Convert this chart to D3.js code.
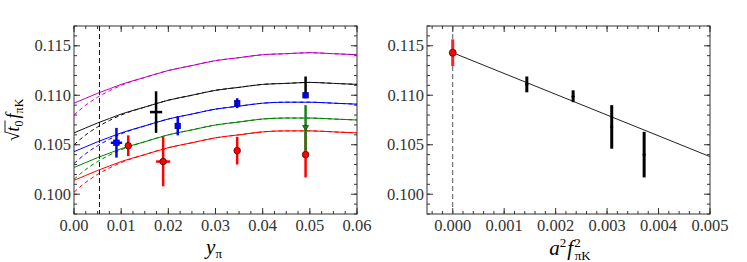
<!DOCTYPE html>
<html>
<head>
<meta charset="utf-8">
<script src="https://cdn.jsdelivr.net/npm/d3@7"></script>
<style>
body{margin:0;background:#fff}
</style>
</head>
<body>
<svg width="747" height="262" font-family="'Liberation Serif', 'DejaVu Serif', serif"></svg>
<script>
var curveX = [0,0.0025,0.005,0.0075,0.01,0.015,0.02,0.025,0.03,0.035,0.04,0.045,0.05,0.055,0.06];

var magSolid = [0.1092,0.1097,0.1102,0.11065,0.1111,0.1118,0.1125,0.1130,0.1135,0.1138,0.1141,0.1142,0.1143,0.1142,0.1141];
var blkSolid = [0.1062,0.1067,0.1072,0.10765,0.1081,0.1088,0.1095,0.1100,0.1105,0.1108,0.1111,0.1112,0.1113,0.1112,0.1111];
var bluSolid = [0.1043,0.1048,0.1053,0.10575,0.1062,0.1069,0.1076,0.1081,0.1086,0.1089,0.1092,0.1093,0.1093,0.1092,0.1091];
var grnSolid = [0.1027,0.1032,0.1037,0.10415,0.1046,0.1053,0.1060,0.1065,0.1070,0.1073,0.1076,0.1077,0.1077,0.1076,0.1075];
var redSolid = [0.1014,0.1019,0.1024,0.10285,0.1033,0.1040,0.1047,0.1052,0.1057,0.1060,0.1063,0.1064,0.1064,0.1063,0.1062];

var magDash = [0.1080,0.1090,0.1098,0.11045,0.1110,0.1118,0.1125,0.1130,0.1135,0.1138,0.1141,0.1142,0.1143,0.1142,0.1141];
var blkDash = [0.1050,0.1060,0.1068,0.10745,0.1080,0.1088,0.1095,0.1100,0.1105,0.1108,0.1111,0.1112,0.1113,0.1112,0.1111];
var bluDash = [0.1031,0.1041,0.1049,0.10555,0.1061,0.1069,0.1076,0.1081,0.1086,0.1089,0.1092,0.1093,0.1093,0.1092,0.1091];
var grnDash = [0.1015,0.1025,0.1033,0.10395,0.1045,0.1053,0.1060,0.1065,0.1070,0.1073,0.1076,0.1077,0.1077,0.1076,0.1075];
var redDash = [0.1002,0.1012,0.1020,0.10265,0.1032,0.1040,0.1047,0.1052,0.1057,0.1060,0.1063,0.1064,0.1064,0.1063,0.1062];

// data points: [x, y, xerr, yerr]
var redPts = [[0.0115,0.1049,0,0.00105],[0.0189,0.1033,0.0015,0.0025],[0.0346,0.1044,0,0.0014],[0.0491,0.1040,0,0.0023]];
var grnPts = [[0.0491,0.1067,0,0.0023]];
var blkPts = [[0.0174,0.1083,0.0013,0.0021],[0.0491,0.1109,0,0.0010]];
var bluPts = [[0.0090,0.1052,0.0012,0.0015],[0.0220,0.1069,0,0.00095],[0.0346,0.1092,0,0.0005],[0.0491,0.1100,0,0.0003]];

var physY = 0.0054;

// right panel
var contPt = [[0,0.1143,0,0.00135]];
var latPts = [[0.00144,0.1111,0,0.0008],[0.00234,0.1099,0,0.0006],[0.00309,0.1068,0,0.0022],[0.00372,0.1040,0,0.0023]];
var fitX = [0,0.005];
var fitY = [0.1143,0.1038];

var xTicksL = [0,0.01,0.02,0.03,0.04,0.05,0.06];
var xTicksR = [0,0.001,0.002,0.003,0.004,0.005];
var yTicks = [0.100,0.105,0.110,0.115];

var svg = d3.select("svg");
var y = d3.scaleLinear().domain([0.098,0.117]).range([214,26]);
var xL = d3.scaleLinear().domain([0,0.06]).range([74,357]);
var xR = d3.scaleLinear().domain([-0.0005,0.005]).range([427,710]);

function frame(x, majors, minorStep, fmt){
	var x0 = x.range()[0], x1 = x.range()[1];
	var d = x.domain();
	var minors = d3.range(Math.round(d[0]/minorStep), Math.round(d[1]/minorStep)+1).map(function(k){return k*minorStep;});
	var yMin = d3.range(98,118).map(function(k){return k/1000;});
	var g = svg.append("g");
	g.append("rect").attr("x",x0).attr("y",26).attr("width",x1-x0).attr("height",188)
		.style("fill","none").style("stroke","#333").style("stroke-width",1);
	function ticks(vals, len){
		vals.forEach(function(v){
			var px = x(v);
			g.append("line").attr("x1",px).attr("x2",px).attr("y1",214).attr("y2",214-len).style("stroke","#333");
			g.append("line").attr("x1",px).attr("x2",px).attr("y1",26).attr("y2",26+len).style("stroke","#333");
		});
	}
	function yticks(vals, len){
		vals.forEach(function(v){
			var py = y(v);
			g.append("line").attr("x1",x0).attr("x2",x0+len).attr("y1",py).attr("y2",py).style("stroke","#333");
			g.append("line").attr("x1",x1).attr("x2",x1-len).attr("y1",py).attr("y2",py).style("stroke","#333");
		});
	}
	ticks(minors,3);
	ticks(majors,6);
	yticks(yMin,3);
	yticks(yTicks,6);
	majors.forEach(function(v){
		g.append("text").attr("x",x(v)).attr("y",231).attr("text-anchor","middle")
			.attr("font-size",16.5).attr("fill","#333").text(fmt(v));
	});
	yTicks.forEach(function(v){
		g.append("text").attr("x",x0-3).attr("y",y(v)+5.5).attr("text-anchor","end")
			.attr("font-size",16.5).attr("fill","#333").text(d3.format(".3f")(v));
	});
}

function curve(x, xs, ys, color, dash){
	var line = d3.line().x(function(d){return x(d[0]);}).y(function(d){return y(d[1]);}).curve(d3.curveMonotoneX);
	svg.append("path").datum(xs.map(function(v,i){return [v, ys[i]];}))
		.attr("d", line)
		.style("fill","none").style("stroke",color).style("stroke-width",1)
		.style("stroke-dasharray", dash ? "4,3" : null);
}

function errbars(x, pts, color, w){
	pts.forEach(function(p){
		svg.append("line").attr("x1",x(p[0])).attr("x2",x(p[0]))
			.attr("y1",y(p[1]-p[3])).attr("y2",y(p[1]+p[3]))
			.style("stroke",color).style("stroke-width",w);
		if(p[2]>0)
			svg.append("line").attr("x1",x(p[0]-p[2])).attr("x2",x(p[0]+p[2]))
				.attr("y1",y(p[1])).attr("y2",y(p[1]))
				.style("stroke",color).style("stroke-width",w);
	});
}

// left panel
frame(xL, xTicksL, 0.0025, d3.format(".2f"));
var cols = ["#c000c0","#111","#0000ff","#008000","#ff0000"];
var solids = [magSolid, blkSolid, bluSolid, grnSolid, redSolid];
var dashes = [magDash, blkDash, bluDash, grnDash, redDash];
for(let i=0; i<5; i++){
	curve(xL, curveX, solids[i], cols[i], false);
	curve(xL, curveX, dashes[i], cols[i], true);
}
svg.append("line").attr("x1",xL(physY)).attr("x2",xL(physY)).attr("y1",26).attr("y2",214)
	.style("stroke","#111").style("stroke-dasharray","5,3");

errbars(xL, redPts, "#ff0000", 2.5);
svg.selectAll(".rc").data(redPts).enter().append("circle")
	.attr("cx",function(d){return xL(d[0]);}).attr("cy",function(d){return y(d[1]);})
	.attr("r",3.3).style("fill","#ff0000").style("stroke","#300").style("stroke-width",0.7);
errbars(xL, grnPts, "#1a7f1a", 2.5);
grnPts.forEach(function(p){
	var cx = xL(p[0]), cy = y(p[1]);
	svg.append("path").attr("d","M"+(cx-3)+","+(cy-2.5)+"L"+(cx+3)+","+(cy-2.5)+"L"+cx+","+(cy+3)+"Z")
		.style("fill","#1a7f1a").style("stroke","#030").style("stroke-width",0.6);
});
errbars(xL, blkPts, "#000", 2.5);
errbars(xL, bluPts, "#0000ff", 2.5);
bluPts.forEach(function(p){
	svg.append("rect").attr("x",xL(p[0])-2.8).attr("y",y(p[1])-2.8).attr("width",5.6).attr("height",5.6)
		.style("fill","#0000ff").style("stroke","#000060").style("stroke-width",0.6);
});

// right panel
frame(xR, xTicksR, 0.0002, d3.format(".3f"));
svg.append("line").attr("x1",xR(0)).attr("x2",xR(0)).attr("y1",26).attr("y2",214)
	.style("stroke","#555").style("stroke-dasharray","5,3");
svg.append("line").attr("x1",xR(fitX[0])).attr("x2",xR(fitX[1])).attr("y1",y(fitY[0])).attr("y2",y(fitY[1]))
	.style("stroke","#222").style("stroke-width",1);
errbars(xR, latPts, "#000", 3);
latPts.forEach(function(p){
	svg.append("circle").attr("cx",xR(p[0])).attr("cy",y(p[1])).attr("r",1.6).style("fill","#000");
});
errbars(xR, contPt, "#ff2020", 3);
svg.append("circle").attr("cx",xR(contPt[0][0])).attr("cy",y(contPt[0][1])).attr("r",3.5)
	.style("fill","#ff0000").style("stroke","#300").style("stroke-width",0.7);

// axis titles
var tl = svg.append("text").attr("x",214).attr("y",254).attr("text-anchor","middle").attr("font-size",21);
tl.append("tspan").attr("font-style","italic").text("y");
tl.append("tspan").attr("font-size",13).attr("dy",4).text("π");

var tr = svg.append("text").attr("x",570).attr("y",255).attr("text-anchor","middle").attr("font-size",21);
tr.append("tspan").attr("font-style","italic").text("a");
tr.append("tspan").attr("font-size",13).attr("dy",-8).text("2");
tr.append("tspan").attr("font-style","italic").attr("dy",8).attr("dx",1).text("f");
tr.append("tspan").attr("font-size",13).attr("dy",-8).attr("dx",1).text("2");
tr.append("tspan").attr("font-size",13).attr("dx",-6).attr("dy",13).text("π");
tr.append("tspan").attr("font-size",13).text("K");

var gy = svg.append("g").attr("transform","translate(19,120) rotate(-90)");
var ty = gy.append("text").attr("text-anchor","middle").attr("font-size",18);
ty.append("tspan").text("√");
ty.append("tspan").attr("font-style","italic").text("t");
ty.append("tspan").attr("font-size",12).attr("dy",4).text("0");
ty.append("tspan").attr("font-style","italic").attr("dy",-4).attr("dx",2).text("f");
ty.append("tspan").attr("font-size",12).attr("dy",4).text("π");
ty.append("tspan").attr("font-size",12).text("K");
var n = ty.node();
var e0 = n.getExtentOfChar(0), e2 = n.getExtentOfChar(2);
gy.append("line").attr("x1",e0.x+e0.width-1).attr("x2",e2.x+e2.width)
	.attr("y1",e0.y+2).attr("y2",e0.y+2).style("stroke","#000").style("stroke-width",0.9);
</script>
</body>
</html>
